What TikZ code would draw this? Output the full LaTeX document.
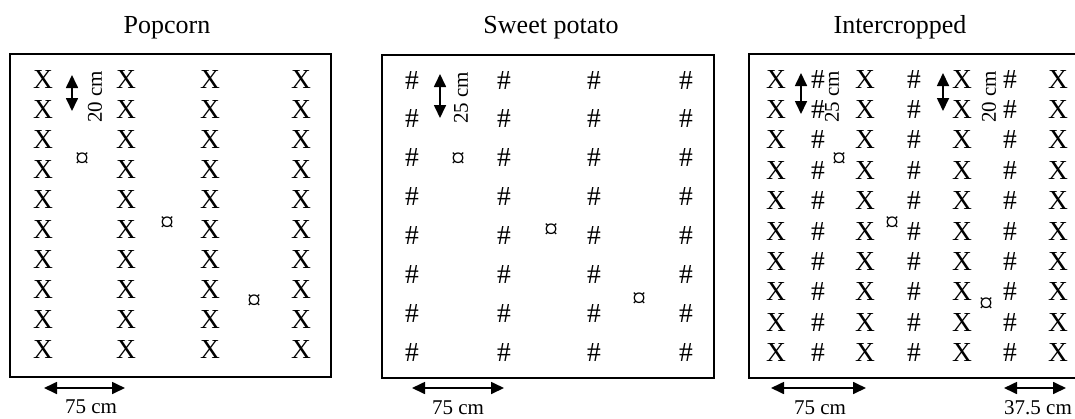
\documentclass[tikz,border=0pt]{standalone}
\usepackage{fontspec}
\setmainfont{Liberation Serif}
\usetikzlibrary{arrows.meta}
\tikzset{
  plant/.style={inner sep=0pt,font=\fontsize{27.5}{28}\selectfont},
  sign/.style={inner sep=0pt,font=\fontsize{28}{28}\selectfont},
  title/.style={inner sep=0pt,anchor=base,font=\fontsize{26}{26}\selectfont},
  dimlabel/.style={inner sep=0pt,font=\fontsize{21}{21}\selectfont},
  dimarrow/.style={line width=1.7pt,{Triangle[length=13pt,width=12pt]}-{Triangle[length=13pt,width=12pt]}},
  plotbox/.style={line width=1.3pt}
}
\begin{document}
\begin{tikzpicture}[x=1pt,y=-1pt]
\useasboundingbox (0,0) rectangle (1075,418);
\clip (0,0) rectangle (1075,418);
% Popcorn
\node[title] (pop-title) at (167,33) {Popcorn};
\draw[plotbox] (10,54) rectangle (331,377);
\foreach \c [count=\i] in {43,126,210,301}
  \foreach \j in {0,...,9}
    \node[plant] (pop-\i-\j) at (\c,{79+30*\j}) {X};
\foreach \p/\x/\y in {1/82/160,2/167/224,3/254/302}
  \node[sign] (pop-s\p) at (\x,\y) {¤};
\path (72,75) coordinate (pop-v1) (72,111) coordinate (pop-v2)
  (44,388) coordinate (pop-h1) (125,388) coordinate (pop-h2);
\draw[dimarrow] (pop-v1) -- (pop-v2);
\draw[dimarrow] (pop-h1) -- (pop-h2);
\node[dimlabel,rotate=90] (pop-row) at (95,97) {20 cm};
\node[dimlabel] (pop-col) at (91,407) {75 cm};
% Sweet potato
\node[title] (sp-title) at (551,33) {Sweet potato};
\draw[plotbox] (382,55) rectangle (714,378);
\foreach \c [count=\i] in {412,504,594,686}
  \foreach \j in {0,...,7}
    \node[plant] (sp-\i-\j) at (\c,{80+38.9*\j}) {\#};
\foreach \p/\x/\y in {1/458/160,2/551/231,3/639/300}
  \node[sign] (sp-s\p) at (\x,\y) {¤};
\path (440,74) coordinate (sp-v1) (440,118) coordinate (sp-v2)
  (412,388) coordinate (sp-h1) (504,388) coordinate (sp-h2);
\draw[dimarrow] (sp-v1) -- (sp-v2);
\draw[dimarrow] (sp-h1) -- (sp-h2);
\node[dimlabel,rotate=90] (sp-row) at (461,98) {25 cm};
\node[dimlabel] (sp-col) at (458,408) {75 cm};
% Intercropped
\node[title] (ic-title) at (900,33) {Intercropped};
\draw[plotbox] (749,54) rectangle (1080,378);
\foreach \c [count=\i] in {776,865,962,1058}
  \foreach \j in {0,...,9}
    \node[plant] (ic-x\i-\j) at (\c,{79+30.4*\j}) {X};
\foreach \c [count=\i] in {818,914,1010}
  \foreach \j in {0,...,9}
    \node[plant] (ic-h\i-\j) at (\c,{79+30.4*\j}) {\#};
\foreach \p/\x/\y in {1/839/160,2/892/224,3/986/305}
  \node[sign] (ic-s\p) at (\x,\y) {¤};
\path (801,73) coordinate (ic-v1) (801,114) coordinate (ic-v2)
  (943,73) coordinate (ic-v3) (943,111) coordinate (ic-v4)
  (771,388) coordinate (ic-h1) (866,388) coordinate (ic-h2)
  (1004,388) coordinate (ic-h3) (1066,388) coordinate (ic-h4);
\draw[dimarrow] (ic-v1) -- (ic-v2);
\draw[dimarrow] (ic-v3) -- (ic-v4);
\draw[dimarrow] (ic-h1) -- (ic-h2);
\draw[dimarrow] (ic-h3) -- (ic-h4);
\node[dimlabel,rotate=90] (ic-row1) at (832,97) {25 cm};
\node[dimlabel,rotate=90] (ic-row2) at (989,97) {20 cm};
\node[dimlabel] (ic-col1) at (820,408) {75 cm};
\node[dimlabel] (ic-col2) at (1038,408) {37.5 cm};
\end{tikzpicture}
\end{document}
